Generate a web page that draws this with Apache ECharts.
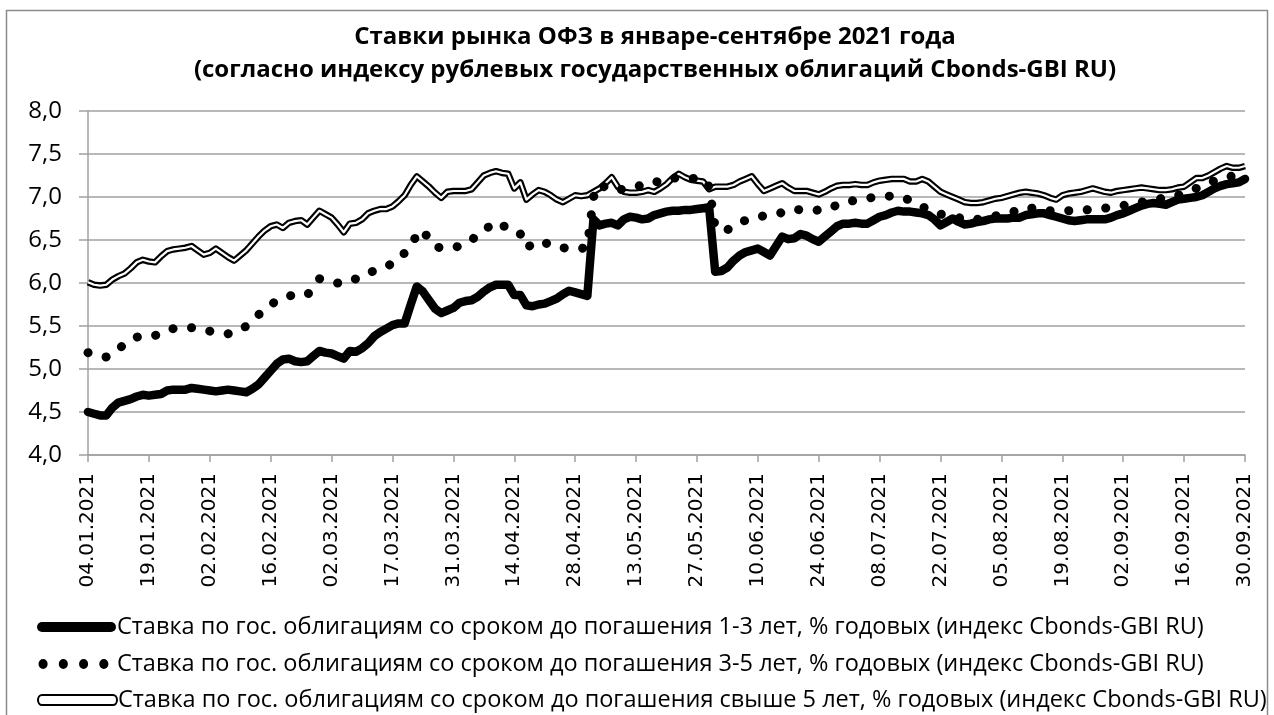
<!DOCTYPE html>
<html><head><meta charset="utf-8">
<script src="https://cdn.jsdelivr.net/npm/echarts@6/dist/echarts.min.js"></script>
<style>html,body{margin:0;padding:0;background:#fff}#c{width:1274px;height:715px}</style>
</head><body><div id="c"></div>
<script>
const titleLines = [
  'Ставки рынка ОФЗ в январе-сентябре 2021 года',
  '(согласно индексу рублевых государственных облигаций Cbonds-GBI RU)'
];
const tickLabels = ['04.01.2021','19.01.2021','02.02.2021','16.02.2021','02.03.2021','17.03.2021','31.03.2021','14.04.2021','28.04.2021','13.05.2021','27.05.2021','10.06.2021','24.06.2021','08.07.2021','22.07.2021','05.08.2021','19.08.2021','02.09.2021','16.09.2021','30.09.2021'];
const pointsPerTick = 10;
const seriesNames = [
  'Ставка по гос. облигациям со сроком до погашения 1-3 лет, % годовых (индекс Cbonds-GBI RU)',
  'Ставка по гос. облигациям со сроком до погашения 3-5 лет, % годовых (индекс Cbonds-GBI RU)',
  'Ставка по гос. облигациям со сроком до погашения свыше 5 лет, % годовых (индекс Cbonds-GBI RU)'
];
const rate1to3 = [
  4.50,4.48,4.46,4.46,4.55,4.61,4.63,4.65,4.68,4.70,
  4.69,4.70,4.71,4.75,4.76,4.76,4.76,4.78,4.77,4.76,
  4.75,4.74,4.75,4.76,4.75,4.74,4.73,4.77,4.82,4.90,
  4.98,5.06,5.11,5.12,5.09,5.08,5.09,5.15,5.21,5.19,
  5.18,5.15,5.12,5.21,5.20,5.24,5.30,5.38,5.43,5.47,
  5.51,5.53,5.53,5.75,5.96,5.90,5.80,5.70,5.65,5.68,
  5.71,5.77,5.79,5.80,5.84,5.90,5.95,5.98,5.98,5.98,
  5.86,5.86,5.74,5.73,5.75,5.76,5.79,5.82,5.87,5.91,
  5.89,5.87,5.85,6.74,6.67,6.69,6.70,6.67,6.74,6.77,
  6.76,6.74,6.75,6.79,6.81,6.83,6.84,6.84,6.85,6.85,
  6.86,6.87,6.88,6.13,6.14,6.18,6.26,6.32,6.36,6.38,
  6.40,6.36,6.32,6.43,6.54,6.51,6.52,6.57,6.55,6.51,
  6.48,6.54,6.60,6.66,6.69,6.69,6.70,6.69,6.69,6.73,
  6.77,6.79,6.82,6.84,6.83,6.83,6.82,6.81,6.79,6.74,
  6.67,6.71,6.75,6.71,6.68,6.69,6.71,6.72,6.74,6.75,
  6.75,6.75,6.76,6.76,6.79,6.80,6.81,6.81,6.79,6.77,
  6.75,6.73,6.72,6.73,6.74,6.74,6.74,6.74,6.76,6.79,
  6.81,6.84,6.87,6.90,6.92,6.93,6.92,6.91,6.94,6.97,
  6.98,6.99,7.00,7.02,7.06,7.10,7.13,7.15,7.16,7.17,
  7.21
];
const rate3to5 = [
  5.19,5.17,5.15,5.14,5.18,5.24,5.28,5.33,5.37,5.39,
  5.39,5.39,5.41,5.44,5.47,5.48,5.48,5.48,5.47,5.45,
  5.44,5.43,5.42,5.41,5.43,5.45,5.50,5.56,5.63,5.69,
  5.75,5.79,5.82,5.85,5.86,5.86,5.86,5.95,6.05,6.03,
  6.01,6.00,6.00,6.01,6.05,6.09,6.12,6.14,6.16,6.19,
  6.23,6.27,6.35,6.43,6.56,6.62,6.50,6.42,6.41,6.40,
  6.41,6.43,6.45,6.50,6.56,6.62,6.66,6.71,6.68,6.62,
  6.58,6.57,6.41,6.45,6.49,6.47,6.44,6.41,6.41,6.40,
  6.40,6.40,6.42,7.00,7.15,7.11,7.08,7.07,7.10,7.13,
  7.13,7.13,7.13,7.16,7.20,7.22,7.22,7.22,7.22,7.22,
  7.21,7.21,7.12,6.64,6.63,6.62,6.65,6.70,6.73,6.75,
  6.77,6.78,6.79,6.80,6.82,6.85,6.86,6.85,6.84,6.84,
  6.85,6.85,6.87,6.91,6.94,6.95,6.96,6.97,6.98,7.00,
  7.01,7.01,7.01,7.01,6.99,6.96,6.93,6.89,6.85,6.82,
  6.80,6.79,6.78,6.76,6.74,6.73,6.74,6.75,6.76,6.78,
  6.80,6.81,6.83,6.86,6.88,6.87,6.85,6.84,6.84,6.84,
  6.84,6.84,6.85,6.85,6.85,6.86,6.86,6.87,6.88,6.89,
  6.90,6.92,6.93,6.94,6.96,6.97,6.98,6.99,7.00,7.02,
  7.05,7.08,7.10,7.13,7.16,7.19,7.21,7.24,7.24,7.23,
  7.22
];
const rateOver5 = [
  6.01,5.98,5.97,5.98,6.04,6.08,6.11,6.17,6.24,6.27,
  6.25,6.24,6.31,6.37,6.39,6.40,6.41,6.43,6.38,6.33,
  6.35,6.40,6.35,6.30,6.26,6.32,6.38,6.46,6.54,6.61,
  6.66,6.68,6.64,6.70,6.72,6.73,6.68,6.76,6.84,6.80,
  6.76,6.68,6.59,6.69,6.70,6.74,6.81,6.84,6.86,6.86,
  6.89,6.95,7.02,7.14,7.24,7.18,7.12,7.05,6.99,7.06,
  7.07,7.07,7.07,7.09,7.17,7.25,7.28,7.30,7.28,7.27,
  7.10,7.17,6.97,7.03,7.08,7.06,7.02,6.97,6.94,6.98,
  7.02,7.01,7.02,7.06,7.10,7.16,7.23,7.12,7.06,7.05,
  7.05,7.06,7.08,7.06,7.10,7.15,7.22,7.27,7.23,7.20,
  7.19,7.18,7.09,7.12,7.12,7.12,7.14,7.18,7.21,7.24,
  7.15,7.07,7.10,7.13,7.16,7.11,7.07,7.07,7.07,7.05,
  7.03,7.06,7.10,7.13,7.14,7.14,7.15,7.14,7.14,7.17,
  7.19,7.20,7.21,7.21,7.21,7.18,7.18,7.21,7.18,7.12,
  7.06,7.03,7.00,6.97,6.94,6.93,6.93,6.94,6.96,6.98,
  6.99,7.01,7.03,7.05,7.06,7.05,7.04,7.02,6.99,6.97,
  7.02,7.04,7.05,7.06,7.08,7.10,7.08,7.06,7.05,7.07,
  7.08,7.09,7.10,7.11,7.10,7.09,7.08,7.08,7.09,7.11,
  7.12,7.17,7.22,7.22,7.25,7.29,7.33,7.36,7.34,7.34,
  7.36
];

const nPoints = (tickLabels.length - 1) * pointsPerTick + 1;
const categories = [];
for (let i = 0; i < nPoints; i++) categories.push(i % pointsPerTick === 0 ? tickLabels[i / pointsPerTick] : '');

const chart = echarts.init(document.getElementById('c'), null, {renderer: 'canvas'});
const gridColor = '#a0a0a0';
const textFont = 'Open Sans';
const capsule = 'path://M5,0L73,0A5,5,0,0,1,73,10L5,10A5,5,0,0,1,5,0Z';
const capsuleThin = 'path://M4,1L74,1A4,4,0,0,1,74,9L4,9A4,4,0,0,1,4,1ZM0,5M78,5';
const dots = 'path://M0,5M1.5,5a4.5,4.5,0,1,0,9,0a4.5,4.5,0,1,0,-9,0ZM21.5,5a4.5,4.5,0,1,0,9,0a4.5,4.5,0,1,0,-9,0ZM41.5,5a4.5,4.5,0,1,0,9,0a4.5,4.5,0,1,0,-9,0ZM61.5,5a4.5,4.5,0,1,0,9,0a4.5,4.5,0,1,0,-9,0ZM78,5';
const legendRows = [627, 664, 700];
const legendIcons = [
  {icon: capsule, itemStyle: {color: '#000', borderWidth: 0}},
  {icon: dots, itemStyle: {color: '#000', borderWidth: 0}},
  {icon: capsuleThin, itemStyle: {color: '#fff', borderColor: '#000', borderWidth: 2}}
];
const legends = seriesNames.map((nm, k) => ({
  orient: 'horizontal', left: 37, top: legendRows[k] - 13, padding: 0,
  itemWidth: 79, itemHeight: 10, symbolKeepAspect: false, selectedMode: false,
  textStyle: {fontSize: 23.5, fontFamily: textFont, color: '#000', lineHeight: 26, padding: [0, 0, 0, -4]},
  data: [Object.assign({name: nm}, legendIcons[k])]
}));

chart.setOption({
  backgroundColor: '#fff',
  animation: false,
  graphic: [
    {type: 'rect', silent: true, shape: {x: 6.5, y: 10.5, width: 1261, height: 730},
     style: {fill: 'none', stroke: '#8c8c8c', lineWidth: 1.5}},
    {type: 'text', silent: true, style: {text: titleLines[0], x: 655, y: 37, align: 'center', verticalAlign: 'middle',
      font: 'bold 24px "Open Sans"', fill: '#000'}},
    {type: 'text', silent: true, style: {text: titleLines[1], x: 655, y: 70, align: 'center', verticalAlign: 'middle',
      font: 'bold 24px "Open Sans"', fill: '#000'}}
  ],
  grid: {left: 88, right: 29, top: 111, bottom: 260, containLabel: false},
  xAxis: {
    type: 'category', data: categories, boundaryGap: false,
    axisLine: {lineStyle: {color: gridColor, width: 1.5}},
    axisTick: {interval: pointsPerTick - 1, length: 7, lineStyle: {color: gridColor, width: 1.5}},
    axisLabel: {interval: pointsPerTick - 1, rotate: 90, margin: 18, color: '#000', fontSize: 20, fontFamily: 'DejaVu Sans'},
    splitLine: {show: false}
  },
  yAxis: {
    type: 'value', min: 4, max: 8, interval: 0.5,
    axisLine: {show: true, lineStyle: {color: gridColor, width: 1.5}},
    axisTick: {show: true, length: 9, lineStyle: {color: gridColor, width: 1.5}},
    axisLabel: {margin: 26, color: '#000', fontSize: 24, fontFamily: textFont, formatter: v => v.toFixed(1).replace('.', ',')},
    splitLine: {lineStyle: {color: gridColor, width: 1.5}}
  },
  legend: legends,
  series: [
    {name: seriesNames[2], type: 'line', data: rateOver5, showSymbol: false, z: 2,
     lineStyle: {color: '#000', width: 6.5, join: 'round'}},
    {name: 'inner', type: 'line', data: rateOver5, showSymbol: false, z: 3, silent: true,
     lineStyle: {color: '#fff', width: 2.2, join: 'round'}},
    {name: seriesNames[1], type: 'line', data: rate3to5, showSymbol: false, z: 4,
     lineStyle: {color: '#000', width: 9, type: [0.1, 18.5], cap: 'round'}},
    {name: seriesNames[0], type: 'line', data: rate1to3, showSymbol: false, z: 5,
     lineStyle: {color: '#000', width: 8.5, join: 'round', cap: 'round'}}
  ]
});
</script></body></html>
